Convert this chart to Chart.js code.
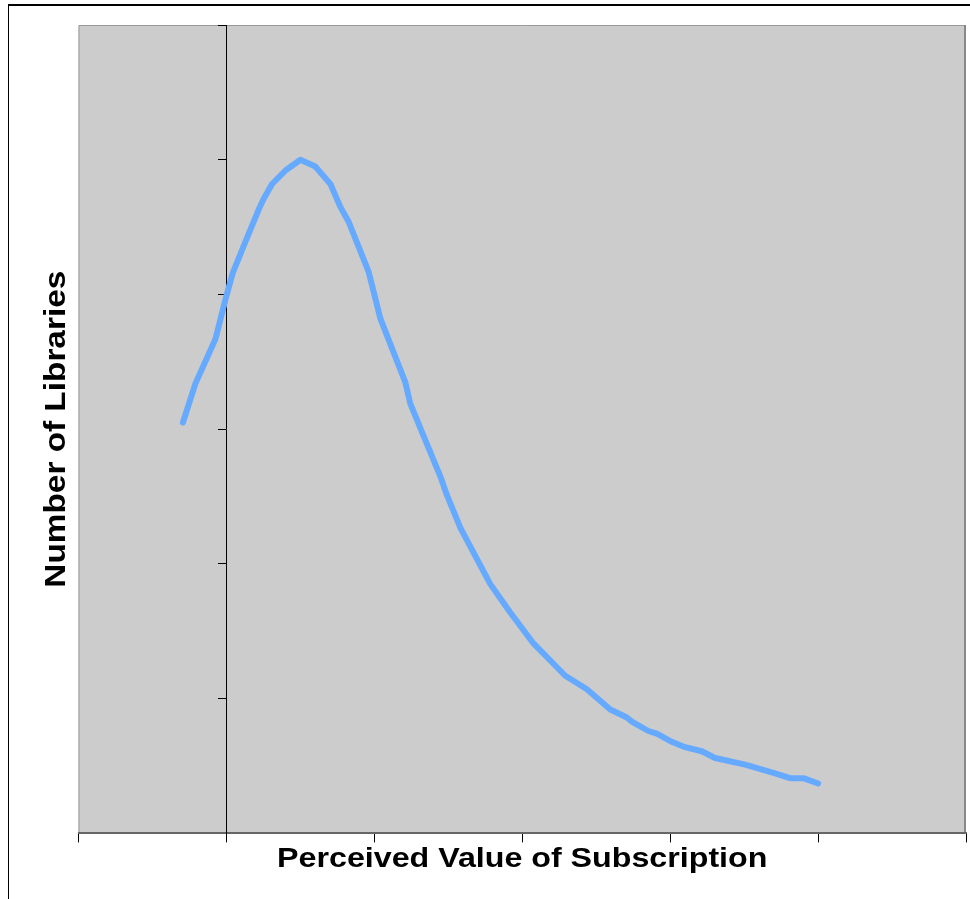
<!DOCTYPE html>
<html>
<head>
<meta charset="utf-8">
<title>Number of Libraries vs Perceived Value</title>
<script src="https://cdn.jsdelivr.net/npm/chart.js@4.4.1/dist/chart.umd.min.js"></script>
<style>
  html, body { margin: 0; padding: 0; background: #fff; overflow: hidden; }
  #wrap { position: relative; width: 970px; height: 899px; }
  #frame { position: absolute; left: 8px; top: 4px; width: 1000px; height: 1000px;
           border-left: 1px solid #000; border-top: 2px solid #000; }
  #chart { position: absolute; left: 0; top: 0; }
</style>
</head>
<body>
<div id="wrap">
  <div id="frame"></div>
  <canvas id="chart" width="970" height="899"></canvas>
</div>
<script>
// values (x in axis-tick units, y in axis-tick units)
const valueX = [0.706, 0.791, 0.926, 0.993, 1.043, 1.128, 1.218, 1.252, 1.309, 1.399,
                1.5, 1.601, 1.703, 1.770, 1.826, 1.961, 2.041, 2.209, 2.243, 2.446,
                2.491, 2.581, 2.784, 2.919, 3.076, 3.291, 3.437, 3.595, 3.707, 3.741,
                3.853, 3.910, 4.011, 4.101, 4.214, 4.304, 4.507, 4.698, 4.811, 4.901, 5.0];
const libraries = [3.05, 3.34, 3.67, 3.96, 4.16, 4.39, 4.63, 4.71, 4.82, 4.92,
                   5.0, 4.95, 4.82, 4.65, 4.54, 4.17, 3.82, 3.35, 3.19, 2.65,
                   2.51, 2.27, 1.85, 1.64, 1.41, 1.17, 1.07, 0.92, 0.86, 0.83,
                   0.76, 0.74, 0.68, 0.64, 0.61, 0.56, 0.51, 0.45, 0.41, 0.41, 0.37];
const xTicks = [0, 1, 2, 3, 4, 5, 6];
const yTicks = [0, 1, 2, 3, 4, 5, 6];

const points = valueX.map((x, i) => ({ x: x, y: libraries[i] }));
const fontFamily = '"Liberation Sans", Arial, sans-serif';

// grey plot area with its thin frame
const plotBackground = {
    id: 'plotBackground',
    beforeDraw(chart) {
        const { ctx, chartArea: a } = chart;
        ctx.save();
        ctx.fillStyle = '#cccccc';
        ctx.fillRect(a.left, a.top, a.right - a.left, a.bottom - a.top);
        ctx.strokeStyle = '#999999';
        ctx.lineWidth = 1;
        ctx.beginPath();
        ctx.moveTo(a.left + 0.5, a.bottom);
        ctx.lineTo(a.left + 0.5, a.top + 0.5);
        ctx.lineTo(a.right, a.top + 0.5);
        ctx.stroke();
        ctx.strokeStyle = '#888888';
        ctx.lineWidth = 2;
        ctx.beginPath();
        ctx.moveTo(a.right - 1, a.top);
        ctx.lineTo(a.right - 1, a.bottom);
        ctx.stroke();
        ctx.restore();
    }
};

// the axis titles in the original are wide, stretched text
function stretchTitle(factor) {
    return function (scale) {
        if (scale.$stretched) return;
        scale.$stretched = true;
        const drawTitle = scale.drawTitle;
        scale.drawTitle = function () {
            const ctx = this.ctx;
            ctx.save();
            if (this.isHorizontal()) {
                const cx = (this.left + this.right) / 2;
                ctx.translate(cx, 0); ctx.scale(factor, 1); ctx.translate(-cx, 0);
            } else {
                const cy = (this.top + this.bottom) / 2;
                ctx.translate(0, cy); ctx.scale(1, factor); ctx.translate(0, -cy);
            }
            drawTitle.apply(this, arguments);
            ctx.restore();
        };
    };
}

new Chart(document.getElementById('chart'), {
    type: 'line',
    data: {
        datasets: [{
            data: points,
            borderColor: '#66aaff',
            borderWidth: 6,
            borderCapStyle: 'round',
            borderJoinStyle: 'round',
            pointRadius: 0,
            tension: 0,
            yAxisID: 'y'
        }]
    },
    options: {
        responsive: false,
        animation: false,
        layout: { padding: { left: 10, top: 25, right: 4, bottom: 19 } },
        plugins: { legend: { display: false }, tooltip: { enabled: false } },
        scales: {
            x: {
                type: 'linear',
                min: 0, max: 6,
                afterBuildTicks: (s) => { s.ticks = xTicks.map(v => ({ value: v })); },
                afterUpdate: stretchTitle(1.15),
                ticks: { display: false },
                grid: { drawOnChartArea: false, tickLength: 9, color: '#000' },
                border: { color: '#666', width: 2 },
                title: { display: true, text: 'Perceived Value of Subscription', color: '#000',
                         font: { family: fontFamily, size: 28, weight: 'bold' },
                         padding: { top: 0, bottom: 4 } }
            },
            y: {
                type: 'linear',
                position: 'left',
                min: 0, max: 6,
                afterUpdate: stretchTitle(1.15),
                ticks: { display: false },
                grid: { display: false, drawTicks: false },
                border: { display: false },
                title: { display: true, text: 'Number of Libraries', color: '#000',
                         font: { family: fontFamily, size: 29, weight: 'bold' },
                         padding: { top: 30, bottom: 3.7 } }
            },
            y2: {
                type: 'linear',
                position: { x: 1 },
                min: 0, max: 6,
                afterBuildTicks: (s) => { s.ticks = yTicks.map(v => ({ value: v })); },
                ticks: { display: false },
                grid: { drawOnChartArea: false, tickLength: 8, color: '#000' },
                border: { color: '#000', width: 1 }
            }
        }
    },
    plugins: [plotBackground]
});
</script>
</body>
</html>
